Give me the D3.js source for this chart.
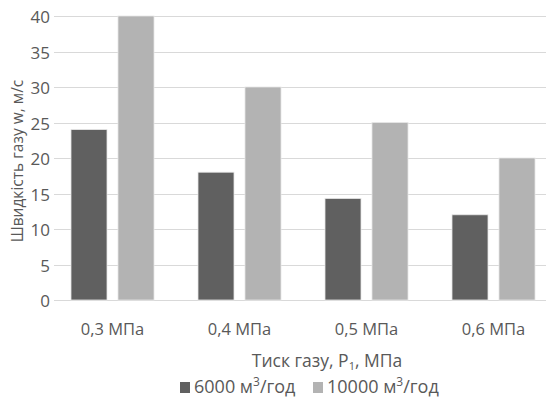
<!DOCTYPE html>
<html>
<head>
<meta charset="utf-8">
<script src="https://cdn.jsdelivr.net/npm/d3@7/dist/d3.min.js"></script>
<style>
  html, body { margin: 0; padding: 0; background: #fff; }
  svg text { font-family: "Open Sans", "Noto Sans", sans-serif; fill: #595959; }
</style>
</head>
<body>
<svg id="chart" width="546" height="401"></svg>
<script>
// Gas velocity by inlet pressure for two flow rates
const categories = ["0,3 МПа", "0,4 МПа", "0,5 МПа", "0,6 МПа"];
const seriesNames = ["6000", "10000"];
const flow6000 = [24, 18, 14.3, 12];
const flow10000 = [40, 30, 25, 20];
const yTicks = [0, 5, 10, 15, 20, 25, 30, 35, 40];

const colors = { "6000": "#606060", "10000": "#b3b3b3" };
const values = { "6000": flow6000, "10000": flow10000 };

const svg = d3.select("#chart");
const plot = { left: 54, right: 546, top: 16, bottom: 300 };

const y = d3.scaleLinear().domain([0, 40]).range([plot.bottom, plot.top]);
const x0 = d3.scaleBand().domain(categories).range([49, 557]).padding(0);
const x1 = d3.scaleBand().domain(seriesNames)
  .range([22, x0.bandwidth() - 22]).paddingInner(0.234).paddingOuter(0);

// horizontal gridlines
svg.append("g").selectAll("line").data(yTicks).join("line")
  .attr("x1", plot.left).attr("x2", plot.right)
  .attr("y1", d => Math.round(y(d)) + 0.5).attr("y2", d => Math.round(y(d)) + 0.5)
  .attr("stroke", "#d9d9d9").attr("stroke-width", 1);

// y axis labels
const yAxis = d3.axisLeft(y).tickValues(yTicks).tickSize(0).tickPadding(0);
const gy = svg.append("g").attr("transform", `translate(${plot.left - 4},1.5)`).call(yAxis);
gy.select(".domain").remove();
gy.selectAll("text").style("font-size", "17px").attr("fill", "#595959");

// bars
const groups = svg.append("g").selectAll("g").data(categories).join("g")
  .attr("transform", d => `translate(${x0(d)},0)`);
groups.selectAll("rect")
  .data((c, i) => seriesNames.map(s => ({ s, v: values[s][i] })))
  .join("rect")
  .attr("x", d => x1(d.s))
  .attr("width", x1.bandwidth())
  .attr("y", d => y(d.v))
  .attr("height", d => y(0) - y(d.v))
  .attr("fill", d => colors[d.s])
  .attr("stroke", "#e6e6e6").attr("stroke-width", 0.8);

// x axis labels
const xAxis = d3.axisBottom(x0).tickSize(0).tickPadding(0);
const gx = svg.append("g").attr("transform", `translate(0,${plot.bottom + 23})`).call(xAxis);
gx.select(".domain").remove();
gx.selectAll("text").style("font-size", "16.5px").attr("fill", "#595959");

// axis titles
const xt = svg.append("text").attr("x", 327).attr("y", 367)
  .attr("text-anchor", "middle").style("font-size", "17.5px");
xt.append("tspan").text("Тиск газу, P");
xt.append("tspan").text("1").style("font-size", "11px").attr("dy", 3);
xt.append("tspan").text(", МПа").attr("dy", -3);

svg.append("text")
  .attr("transform", "translate(23,161) rotate(-90)")
  .attr("text-anchor", "middle").style("font-size", "15.5px")
  .text("Швидкість газу w, м/с");

// legend
const legend = svg.append("g").attr("transform", "translate(0,393)");
const legendItems = [
  { s: "6000", x: 180 },
  { s: "10000", x: 313 }
];
legendItems.forEach(item => {
  legend.append("rect").attr("x", item.x).attr("y", -11)
    .attr("width", 10).attr("height", 11).attr("fill", colors[item.s]);
  const t = legend.append("text").attr("x", item.x + 14).attr("y", 0)
    .style("font-size", "18px");
  t.append("tspan").text(item.s + " м");
  t.append("tspan").text("3").style("font-size", "12px").attr("dy", -7);
  t.append("tspan").text("/год").attr("dy", 7);
});
</script>
</body>
</html>
